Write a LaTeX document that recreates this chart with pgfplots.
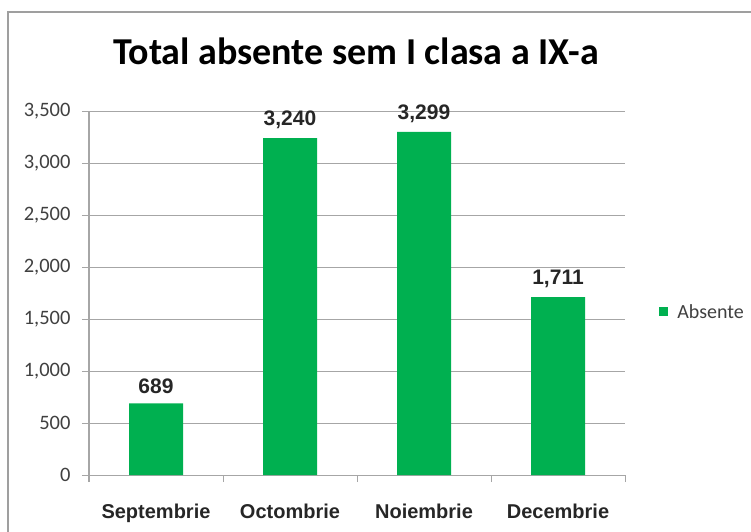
\documentclass[border=0pt]{standalone}
\usepackage{fontspec}
\setmainfont{Carlito}
\newfontfamily\arialf{Liberation Sans}
\usepackage{pgfplots}
\pgfplotsset{compat=1.18}
\definecolor{bargreen}{HTML}{00B050}
\definecolor{gridgray}{HTML}{A6A6A6}
\definecolor{txtgray}{HTML}{404040}
\begin{document}
\begin{tikzpicture}[x=1pt,y=1pt]
\useasboundingbox (0,0) rectangle (751,531);
\draw[draw=gray!75, line width=1.5pt] (8,-2) -- (8,519) -- (753,519);
\node[font=\fontsize{38}{40}\selectfont\bfseries, text=black] at (356,480) {Total absente sem I clasa a IX-a};
\begin{axis}[
  at={(89pt,56pt)}, anchor=south west,
  scale only axis, width=536pt, height=364pt,
  xmin=-0.5, xmax=3.5, ymin=0, ymax=3500,
  ybar, bar width=54pt,
  ytick={0,500,...,3500},
  ymajorgrids, grid style={gridgray, line width=1pt},
  axis x line*=bottom, axis y line*=left,
  axis line style={gridgray, line width=1pt},
  tick align=outside, major tick length=7pt,
  tick style={gridgray, line width=1pt},
  xtick={-0.5,0.5,1.5,2.5,3.5}, xticklabels={},
  extra x ticks={0,1,2,3},
  extra x tick labels={Septembrie,Octombrie,Noiembrie,Decembrie},
  extra x tick style={major tick length=0pt, tick label style={font=\arialf\bfseries\fontsize{20}{24}\selectfont, text=black!85, yshift=-25pt}},
  yticklabel style={font=\fontsize{20.5}{24}\selectfont, text=txtgray, xshift=-8pt},
  /pgf/number format/1000 sep={,},
  /pgf/number format/assume math mode=true,
  legend style={at={(1.058,0.448)}, anchor=west, draw=none, fill=none, font=\fontsize{20}{24}\selectfont, text=txtgray},
  legend image code/.code={\fill[bargreen] (0pt,-4.5pt) rectangle (9pt,4.5pt); \path (16pt,0pt);},
]
\addplot[fill=bargreen, draw=none, nodes near coords,
  nodes near coords style={font=\arialf\bfseries\fontsize{21}{24}\selectfont, text=black!85, yshift=6pt}]
  coordinates {(0,689) (1,3240) (2,3299) (3,1711)};
\addlegendentry{Absente}
\end{axis}
\end{tikzpicture}
\end{document}
